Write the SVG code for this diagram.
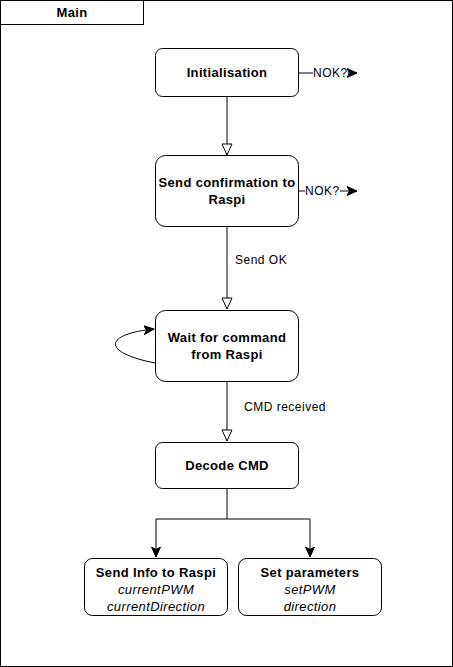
<svg xmlns="http://www.w3.org/2000/svg" width="453" height="667" viewBox="0 0 453 667">
<defs>
<style>
.box{fill:#fff;stroke:#000;stroke-width:1}
.b{font-family:"Liberation Sans",Arial,sans-serif;font-size:13px;font-weight:bold;letter-spacing:0.35px;text-anchor:middle;fill:#000}
.i{font-family:"Liberation Sans",Arial,sans-serif;font-size:13px;font-style:italic;letter-spacing:0.4px;text-anchor:middle;fill:#000}
.l{font-family:"Liberation Sans",Arial,sans-serif;font-size:12px;letter-spacing:0.5px;fill:#000}
.c{fill:none;stroke:#000;stroke-width:1}
</style>
<marker id="hollow" markerWidth="14" markerHeight="14" refX="12" refY="6" orient="auto" markerUnits="userSpaceOnUse">
<path d="M1,1 L12,6 L1,11 Z" fill="#fff" stroke="#000" stroke-width="1"/>
</marker>
<marker id="filled" markerWidth="12" markerHeight="12" refX="10" refY="5" orient="auto" markerUnits="userSpaceOnUse">
<path d="M0,0.5 L10,5 L0,9.5 L2.5,5 Z" fill="#000" stroke="#000" stroke-width="1"/>
</marker>
</defs>
<g id="frame">
<rect x="0.5" y="0.5" width="452" height="666" fill="#fff" stroke="#000"/>
<rect x="0.5" y="0.5" width="143" height="24" fill="#fff" stroke="#000"/>
<text class="b" x="72" y="17">Main</text>
</g>
<g id="connectors">
<path class="c" d="M227,96 V155" marker-end="url(#hollow)"/>
<path class="c" d="M227,226 V309" marker-end="url(#hollow)"/>
<text class="l" x="235" y="264">Send OK</text>
<path class="c" d="M227,381 V441" marker-end="url(#hollow)"/>
<text class="l" x="244" y="411">CMD received</text>
<path class="c" d="M155,363 C100,352 105,334 154,329" marker-end="url(#filled)"/>
<path class="c" d="M227,488 V519 H156 V557" marker-end="url(#filled)"/>
<path class="c" d="M227,519 H310 V557" marker-end="url(#filled)"/>
<path class="c" d="M298,73 H313"/>
<text class="l" x="313" y="77">NOK?</text>
<path class="c" d="M348,73 H357" marker-end="url(#filled)"/>
<path class="c" d="M298,191 H305"/>
<text class="l" x="305" y="195">NOK?</text>
<path class="c" d="M340,191 H357" marker-end="url(#filled)"/>
</g>
<g id="init">
<rect class="box" x="155.5" y="48.5" width="143" height="48" rx="7"/>
<text class="b" x="227" y="77">Initialisation</text>
</g>
<g id="confirm">
<rect class="box" x="155.5" y="155.5" width="143" height="71" rx="10"/>
<text class="b" x="227" y="187">Send confirmation to</text>
<text class="b" x="227" y="204">Raspi</text>
</g>
<g id="wait">
<rect class="box" x="155.5" y="310.5" width="143" height="71" rx="10"/>
<text class="b" x="227" y="342">Wait for command</text>
<text class="b" x="227" y="359">from Raspi</text>
</g>
<g id="decode">
<rect class="box" x="155.5" y="442.5" width="143" height="46" rx="7"/>
<text class="b" x="227" y="470">Decode CMD</text>
</g>
<g id="sendinfo">
<rect class="box" x="84.5" y="558.5" width="143" height="57" rx="8"/>
<text class="b" x="156" y="577">Send Info to Raspi</text>
<text class="i" x="156" y="594">currentPWM</text>
<text class="i" x="156" y="611">currentDirection</text>
</g>
<g id="setparams">
<rect class="box" x="238.5" y="558.5" width="143" height="57" rx="8"/>
<text class="b" x="310" y="577">Set parameters</text>
<text class="i" x="310" y="594">setPWM</text>
<text class="i" x="310" y="611">direction</text>
</g>
</svg>
